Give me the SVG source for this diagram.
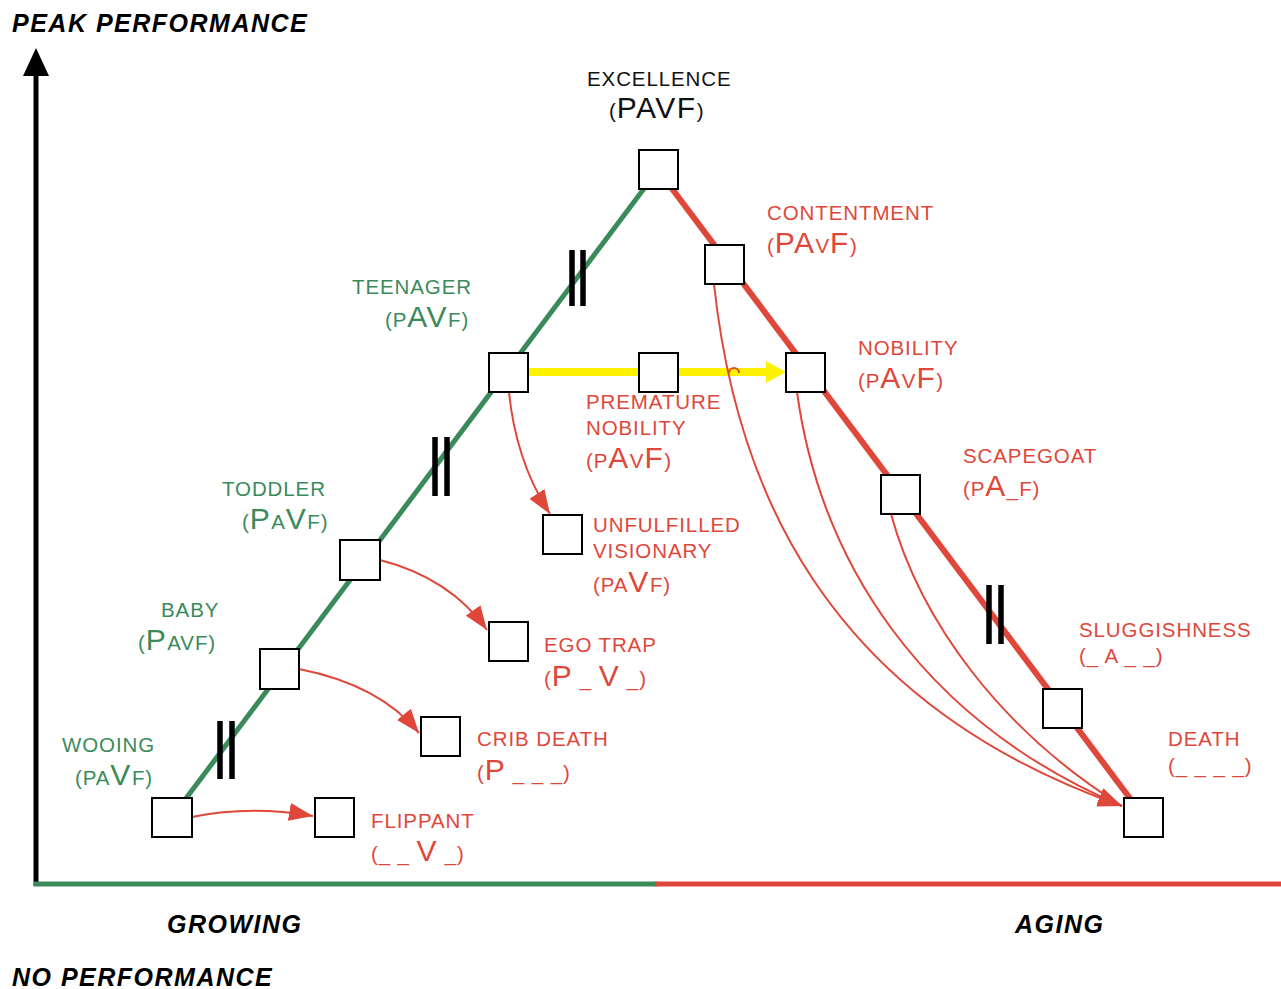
<svg xmlns="http://www.w3.org/2000/svg" width="1281" height="989" viewBox="0 0 1281 989">
<style>
text{font-family:"Liberation Sans",Arial,sans-serif}
.ax{font-weight:bold;font-style:italic;font-size:25px;fill:#000;letter-spacing:1.5px}
.lb{font-size:20.5px;letter-spacing:0.9px}
.g{fill:#3a8a5c}
.r{fill:#e0473b}
.k{fill:#111}
.s{font-size:20.5px}
.L{font-size:30px;letter-spacing:1.5px}
.box{fill:#fff;stroke:#000;stroke-width:2}
.cv{fill:none;stroke:#e0473b;stroke-width:2}
.tk{stroke:#000;stroke-width:5.5}
</style>
<defs>
<marker id="ah" markerUnits="userSpaceOnUse" markerWidth="26" markerHeight="18" refX="24" refY="9" orient="auto">
<path d="M0,0 L24,9 L0,18 Z" fill="#e0473b"/>
</marker>
</defs>
<rect width="1281" height="989" fill="#fff"/>
<g id="axes">
<line x1="36" y1="886" x2="36" y2="70" stroke="#000" stroke-width="5"/>
<polygon points="36,48 49,76 23,76" fill="#000"/>
<line x1="34" y1="884" x2="657" y2="884" stroke="#3a8a5c" stroke-width="5"/>
<line x1="655" y1="884" x2="1281" y2="884" stroke="#e0473b" stroke-width="5"/>
<text class="ax" x="12" y="32">PEAK PERFORMANCE</text>
<text class="ax" x="167" y="933">GROWING</text>
<text class="ax" x="1015" y="933">AGING</text>
<text class="ax" x="12" y="986">NO PERFORMANCE</text>
</g>
<g id="connectors">
<line x1="172" y1="817" x2="658" y2="170" stroke="#3a8a5c" stroke-width="5"/>
<line x1="658" y1="170" x2="1144" y2="817" stroke="#e0473b" stroke-width="6"/>
<line class="tk" x1="572" y1="250" x2="572" y2="306"/>
<line class="tk" x1="583" y1="250" x2="583" y2="306"/>
<line class="tk" x1="435" y1="437" x2="435" y2="496"/>
<line class="tk" x1="447" y1="437" x2="447" y2="496"/>
<line class="tk" x1="220" y1="721" x2="220" y2="779"/>
<line class="tk" x1="232" y1="721" x2="232" y2="779"/>
<line class="tk" x1="989" y1="585" x2="989" y2="644"/>
<line class="tk" x1="1001" y1="585" x2="1001" y2="644"/>
<line x1="528" y1="372" x2="770" y2="372" stroke="#fff200" stroke-width="8"/>
<polygon points="786,372 766,361 766,383" fill="#fff200"/>
<path class="cv" d="M192,817 Q250,805 313,816" marker-end="url(#ah)"/>
<path class="cv" d="M299,669 Q380,685 419,733" marker-end="url(#ah)"/>
<path class="cv" d="M380,560 Q450,578 487,630" marker-end="url(#ah)"/>
<path class="cv" d="M509,392 Q516,462 550,514" marker-end="url(#ah)"/>
<path class="cv" d="M714,284 C735,480 820,700 1122,806" marker-end="url(#ah)"/>
<path class="cv" d="M797,392 C820,560 920,720 1122,806" marker-end="url(#ah)"/>
<path class="cv" d="M891,514 C920,620 1000,730 1122,806"/>
<path class="cv" d="M729,373 a5,5 0 0 1 10,0"/>
</g>
<g id="excellence">
<rect class="box" x="639" y="150" width="39" height="39"/>
<text class="lb k" x="587" y="86">EXCELLENCE</text>
<text class="lb k" x="609" y="118"><tspan class="s">(</tspan><tspan class="L">PAVF</tspan><tspan class="s">)</tspan></text>
</g>
<g id="contentment">
<rect class="box" x="705" y="245" width="39" height="39"/>
<text class="lb r" x="767" y="220">CONTENTMENT</text>
<text class="lb r" x="767" y="253"><tspan class="s">(</tspan><tspan class="L">PA</tspan><tspan class="s">V</tspan><tspan class="L">F</tspan><tspan class="s">)</tspan></text>
</g>
<g id="teenager">
<rect class="box" x="489" y="353" width="39" height="39"/>
<text class="lb g" x="352" y="294">TEENAGER</text>
<text class="lb g" x="385" y="327"><tspan class="s">(P</tspan><tspan class="L">AV</tspan><tspan class="s">F)</tspan></text>
</g>
<g id="premature-nobility">
<rect class="box" x="639" y="353" width="39" height="39"/>
<text class="lb r" x="586" y="409">PREMATURE</text>
<text class="lb r" x="586" y="435">NOBILITY</text>
<text class="lb r" x="586" y="468"><tspan class="s">(P</tspan><tspan class="L">A</tspan><tspan class="s">V</tspan><tspan class="L">F</tspan><tspan class="s">)</tspan></text>
</g>
<g id="nobility">
<rect class="box" x="786" y="353" width="39" height="39"/>
<text class="lb r" x="858" y="355">NOBILITY</text>
<text class="lb r" x="858" y="388"><tspan class="s">(P</tspan><tspan class="L">A</tspan><tspan class="s">V</tspan><tspan class="L">F</tspan><tspan class="s">)</tspan></text>
</g>
<g id="scapegoat">
<rect class="box" x="881" y="475" width="39" height="39"/>
<text class="lb r" x="963" y="463">SCAPEGOAT</text>
<text class="lb r" x="963" y="496"><tspan class="s">(P</tspan><tspan class="L">A</tspan><tspan class="s">_F)</tspan></text>
</g>
<g id="unfulfilled-visionary">
<rect class="box" x="543" y="515" width="39" height="39"/>
<text class="lb r" x="593" y="532">UNFULFILLED</text>
<text class="lb r" x="593" y="558">VISIONARY</text>
<text class="lb r" x="593" y="592"><tspan class="s">(PA</tspan><tspan class="L">V</tspan><tspan class="s">F)</tspan></text>
</g>
<g id="toddler">
<rect class="box" x="340" y="540" width="40" height="40"/>
<text class="lb g" x="222" y="496">TODDLER</text>
<text class="lb g" x="242" y="529"><tspan class="s">(</tspan><tspan class="L">P</tspan><tspan class="s">A</tspan><tspan class="L">V</tspan><tspan class="s">F)</tspan></text>
</g>
<g id="ego-trap">
<rect class="box" x="489" y="622" width="39" height="39"/>
<text class="lb r" x="544" y="652">EGO TRAP</text>
<text class="lb r" x="544" y="686"><tspan class="s">(</tspan><tspan class="L">P</tspan><tspan class="s"> _ </tspan><tspan class="L">V</tspan><tspan class="s"> _)</tspan></text>
</g>
<g id="baby">
<rect class="box" x="260" y="649" width="39" height="40"/>
<text class="lb g" x="161" y="617">BABY</text>
<text class="lb g" x="138" y="650"><tspan class="s">(</tspan><tspan class="L">P</tspan><tspan class="s">AVF)</tspan></text>
</g>
<g id="sluggishness">
<rect class="box" x="1043" y="689" width="39" height="39"/>
<text class="lb r" x="1079" y="637">SLUGGISHNESS</text>
<text class="lb r" x="1079" y="663">(_ A _ _)</text>
</g>
<g id="crib-death">
<rect class="box" x="421" y="717" width="39" height="39"/>
<text class="lb r" x="477" y="746">CRIB DEATH</text>
<text class="lb r" x="477" y="780"><tspan class="s">(</tspan><tspan class="L">P</tspan><tspan class="s"> _ _ _)</tspan></text>
</g>
<g id="death">
<rect class="box" x="1124" y="798" width="39" height="39"/>
<text class="lb r" x="1168" y="746">DEATH</text>
<text class="lb r" x="1168" y="773">(_ _ _ _)</text>
</g>
<g id="wooing">
<rect class="box" x="152" y="798" width="40" height="39"/>
<text class="lb g" x="62" y="752">WOOING</text>
<text class="lb g" x="75" y="785"><tspan class="s">(PA</tspan><tspan class="L">V</tspan><tspan class="s">F)</tspan></text>
</g>
<g id="flippant">
<rect class="box" x="315" y="798" width="39" height="39"/>
<text class="lb r" x="371" y="828">FLIPPANT</text>
<text class="lb r" x="371" y="861"><tspan class="s">(_ _ </tspan><tspan class="L">V</tspan><tspan class="s"> _)</tspan></text>
</g>
</svg>
